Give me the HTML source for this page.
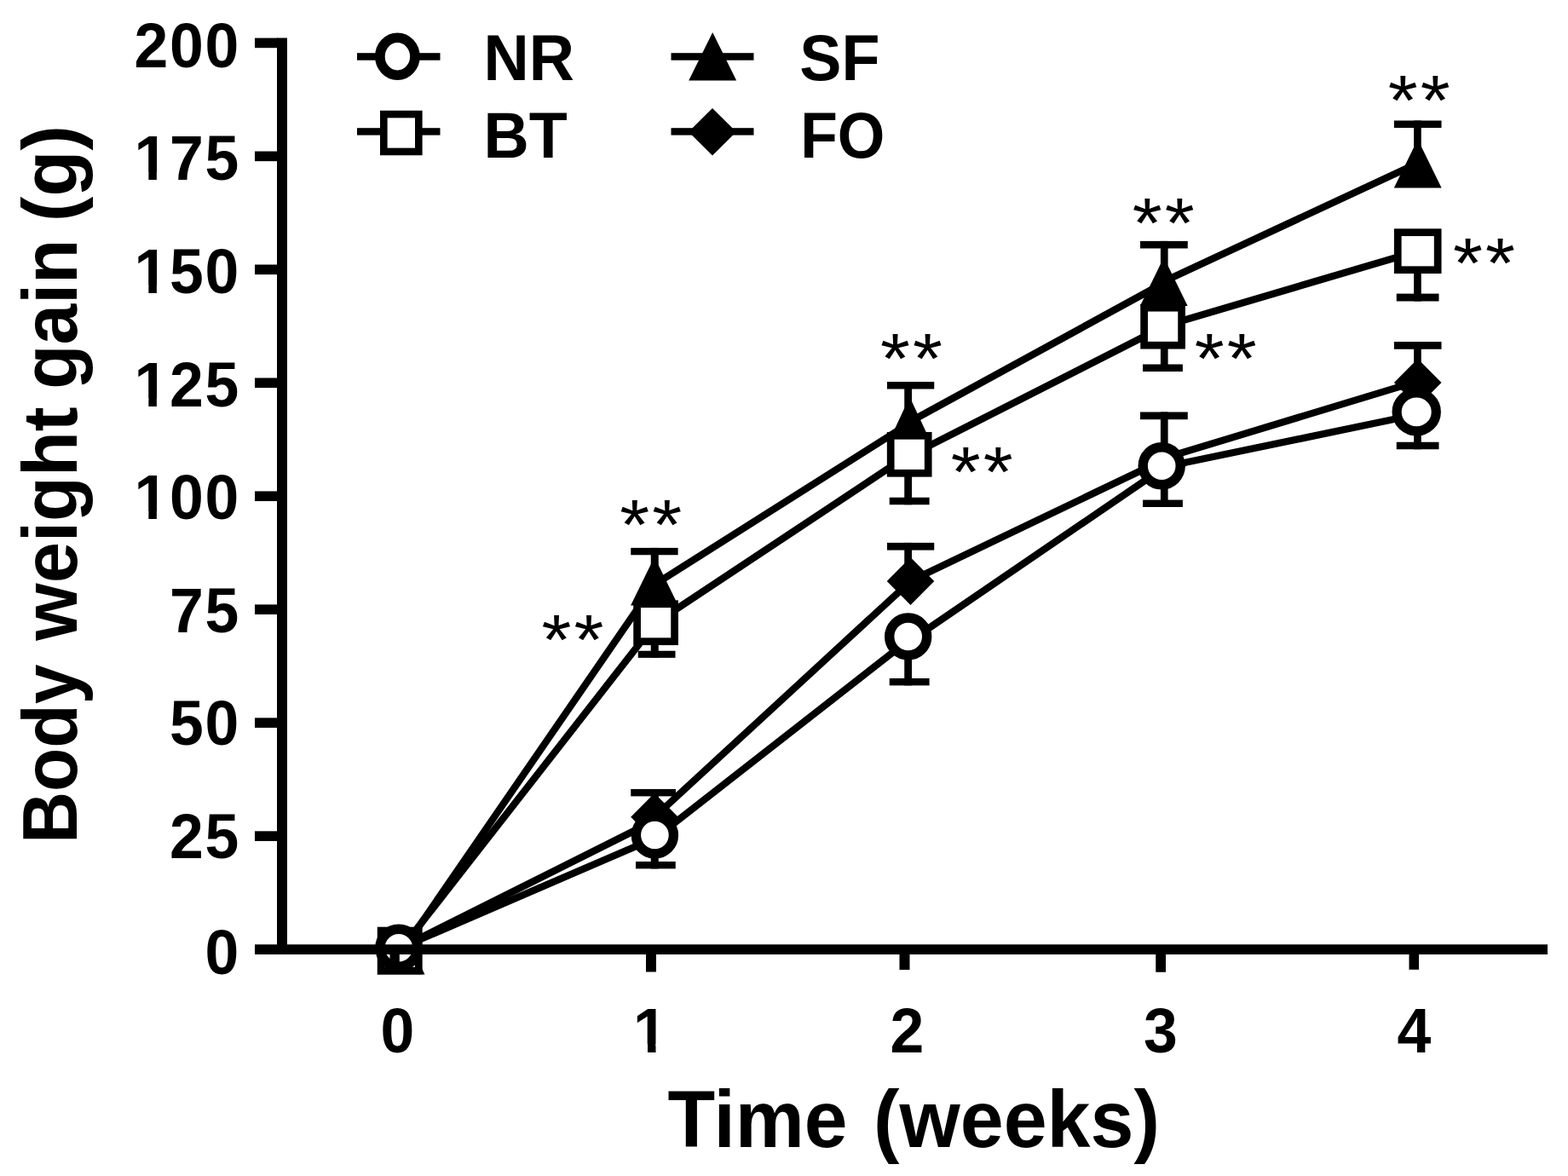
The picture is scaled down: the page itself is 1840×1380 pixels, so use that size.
<!DOCTYPE html>
<html lang="en">
<head>
<meta charset="utf-8">
<title>Body weight gain (g) vs Time (weeks)</title>
<style>
html,body{margin:0;padding:0;background:#fff;}
body{width:1840px;height:1380px;overflow:hidden;}
svg{display:block;}
.tick{font-family:"Liberation Sans",Arial,Helvetica,sans-serif;font-weight:bold;font-size:74.5px;fill:#000;}
.leg{font-family:"Liberation Sans",Arial,Helvetica,sans-serif;font-weight:bold;font-size:76px;fill:#000;}
.title{font-family:"Liberation Sans",Arial,Helvetica,sans-serif;font-weight:bold;fill:#000;}
.star{font-family:"Liberation Sans",Arial,Helvetica,sans-serif;font-weight:normal;font-size:83.1px;letter-spacing:2.9px;fill:#000;}
</style>
</head>
<body>
<svg width="1840" height="1380" viewBox="0 0 1840 1380" role="img" aria-label="Line chart of body weight gain (g) over time (weeks) for groups NR, BT, SF and FO">
<rect x="0" y="0" width="1840" height="1380" fill="#fff"/>
<g id="series-fo" fill="#000">
<path fill="none" stroke="#000" stroke-width="8.3" stroke-linecap="butt" d="M469.2 1112.7L768 963M768 958.75L1068.5 682M1068.5 681.7L1365.5 539.5M1365.5 537.8L1663.7 447.4"/>
<rect x="763.75" y="926" width="9" height="32.75"/>
<rect x="740.25" y="926" width="52.75" height="8.4"/>
<rect x="1061.25" y="636.9" width="8.75" height="45.1"/>
<rect x="1041" y="636.9" width="55.25" height="8.7"/>
<rect x="1361.9" y="483.5" width="8.7" height="61.5"/>
<rect x="1338" y="483.5" width="55.75" height="8.75"/>
<rect x="1659.1" y="401" width="8.65" height="48"/>
<rect x="1635.9" y="401" width="55.6" height="8.75"/>
<polygon points="469.2,1087 497,1115 469.2,1143 441.4,1115"/>
<polygon points="768,930.75 795.8,958.75 768,986.75 740.2,958.75"/>
<polygon points="1068.5,654 1096.3,682 1068.5,710 1040.7,682"/>
<polygon points="1365.5,517 1393.3,545 1365.5,573 1337.7,545"/>
<polygon points="1663.7,421 1691.5,449 1663.7,477 1635.9,449"/>
</g>
<g id="series-sf" fill="#000">
<path fill="none" stroke="#000" stroke-width="8.3" stroke-linecap="butt" d="M470.6 1117.7L768 685.6M768 686.1L1067.5 496.6M1067.5 495L1365.75 332M1365.75 330.2L1663.7 191.4"/>
<rect x="763.75" y="642.9" width="9" height="39.1"/>
<rect x="740.25" y="642.9" width="55.35" height="8.35"/>
<rect x="1061.25" y="448" width="8.75" height="46.25"/>
<rect x="1041" y="448" width="55.25" height="8.5"/>
<rect x="1361.9" y="282.9" width="8.7" height="47.6"/>
<rect x="1338" y="282.9" width="55.75" height="8.6"/>
<rect x="1659.1" y="141.5" width="8.65" height="50.5"/>
<rect x="1635.9" y="141.5" width="55.6" height="8.5"/>
<polygon points="470.6,1086.5 498.5,1143.5 442.7,1143.5"/>
<polygon points="768,653.5 795.9,710.5 740.1,710.5"/>
<polygon points="1067.5,465.75 1094.1,522.75 1040.9,522.75"/>
<polygon points="1365.75,302 1393.65,359 1337.85,359"/>
<polygon points="1663.7,163.5 1691.6,220.5 1635.8,220.5"/>
</g>
<g id="series-bt" fill="#000">
<path fill="none" stroke="#000" stroke-width="8.3" stroke-linecap="butt" d="M469.2 1115.6L769.6 730.75M769.6 730.75L1067.2 533.3M1067.2 534.9L1364.6 383.8M1364.6 383L1663.7 294.7"/>
<rect x="763.75" y="730.75" width="9" height="41.15"/>
<rect x="748.75" y="763.75" width="43.75" height="8.15"/>
<rect x="1061.25" y="533.3" width="8.75" height="58.95"/>
<rect x="1043.75" y="583.75" width="46.85" height="8.5"/>
<rect x="1361.9" y="383.2" width="8.7" height="52.8"/>
<rect x="1341" y="427.5" width="46.9" height="8.5"/>
<rect x="1659.1" y="294.7" width="8.65" height="58.8"/>
<rect x="1638.75" y="344.6" width="49.75" height="8.9"/>
<rect x="447.1" y="1092.07" width="44.2" height="47.05" fill="#fff" stroke="#000" stroke-width="8.7"/>
<rect x="747.6" y="708.75" width="44" height="44" fill="#fff" stroke="#000" stroke-width="8.7"/>
<rect x="1045.2" y="511.3" width="44" height="44" fill="#fff" stroke="#000" stroke-width="8.7"/>
<rect x="1342.6" y="361.2" width="44" height="44" fill="#fff" stroke="#000" stroke-width="8.7"/>
<rect x="1640.25" y="272.7" width="46.9" height="44" fill="#fff" stroke="#000" stroke-width="8.7"/>
</g>
<g id="series-nr" fill="#000">
<path fill="none" stroke="#000" stroke-width="8.3" stroke-linecap="butt" d="M467.9 1113.2L768.4 983.5M768.4 983.8L1065.7 751.5M1065.7 753.8L1363.2 550.5M1363.2 548.5L1662.2 486.5"/>
<rect x="763.75" y="980" width="9" height="39.4"/>
<rect x="746" y="1011" width="46.75" height="8.4"/>
<rect x="1061.25" y="747" width="8.75" height="57.4"/>
<rect x="1043.75" y="796" width="46.85" height="8.4"/>
<rect x="1361.9" y="546.8" width="8.7" height="48.2"/>
<rect x="1341" y="586.6" width="46.9" height="8.4"/>
<rect x="1659.1" y="483.4" width="8.65" height="43.85"/>
<rect x="1638.75" y="518.75" width="49.75" height="8.5"/>
<ellipse cx="467.9" cy="1112.3" rx="22" ry="22" fill="#fff" stroke="#000" stroke-width="11.4"/>
<ellipse cx="768.4" cy="980" rx="22" ry="22" fill="#fff" stroke="#000" stroke-width="11.4"/>
<ellipse cx="1065.7" cy="747" rx="22" ry="22" fill="#fff" stroke="#000" stroke-width="11.4"/>
<ellipse cx="1363.2" cy="546.8" rx="22" ry="22" fill="#fff" stroke="#000" stroke-width="11.4"/>
<ellipse cx="1662.2" cy="483.4" rx="23.1" ry="22.5" fill="#fff" stroke="#000" stroke-width="11.2"/>
</g>
<g id="axes" fill="#000">
<rect x="325" y="44.5" width="12" height="1075.5"/>
<rect x="299" y="1108.3" width="1517" height="11.7"/>
<rect x="299" y="44.6" width="27" height="11.6"/>
<rect x="299" y="177.56" width="27" height="11.6"/>
<rect x="299" y="310.52" width="27" height="11.6"/>
<rect x="299" y="443.49" width="27" height="11.6"/>
<rect x="299" y="576.45" width="27" height="11.6"/>
<rect x="299" y="709.41" width="27" height="11.6"/>
<rect x="299" y="842.37" width="27" height="11.6"/>
<rect x="299" y="975.34" width="27" height="11.6"/>
<rect x="457.5" y="1115" width="11.3" height="25.5"/>
<rect x="758" y="1115" width="12" height="25.5"/>
<rect x="1055.5" y="1115" width="12" height="23"/>
<rect x="1356.25" y="1115" width="11.75" height="25.75"/>
<rect x="1653.5" y="1115" width="11.5" height="22.8"/>
</g>
<g id="ylabels" class="tick" text-anchor="end" letter-spacing="1.77">
<text transform="translate(281.9 78.85) scale(0.96 1)">200</text>
<text transform="translate(281.9 211.45) scale(0.96 1)">175</text>
<text transform="translate(281.9 344.05) scale(0.96 1)">150</text>
<text transform="translate(281.9 476.65) scale(0.96 1)">125</text>
<text transform="translate(281.9 609.25) scale(0.96 1)">100</text>
<text transform="translate(281.9 741.85) scale(0.96 1)">75</text>
<text transform="translate(281.9 874.45) scale(0.96 1)">50</text>
<text transform="translate(281.9 1007.05) scale(0.96 1)">25</text>
<text transform="translate(281.9 1142.65) scale(0.96 1)">0</text>
</g>
<g id="xlabels" class="tick" text-anchor="middle">
<text transform="translate(466.3 1234.6) scale(0.96 1)">0</text>
<text transform="translate(763 1234.6) scale(0.96 1)">1</text>
<text transform="translate(1064.3 1234.6) scale(0.96 1)">2</text>
<text transform="translate(1361.9 1234.6) scale(0.96 1)">3</text>
<text transform="translate(1659.4 1234.6) scale(0.96 1)">4</text>
</g>
<g id="digit-trim" fill="#fff">
<rect x="160.33" y="202.14" width="14.02" height="10.31"/><rect x="183.86" y="202.14" width="13.66" height="10.31"/>
<rect x="160.33" y="334.74" width="14.02" height="10.31"/><rect x="183.86" y="334.74" width="13.66" height="10.31"/>
<rect x="160.33" y="467.34" width="14.02" height="10.31"/><rect x="183.86" y="467.34" width="13.66" height="10.31"/>
<rect x="160.33" y="599.94" width="14.02" height="10.31"/><rect x="183.86" y="599.94" width="13.66" height="10.31"/>
<rect x="745.97" y="1225.29" width="14.02" height="10.31"/><rect x="769.5" y="1225.29" width="13.66" height="10.31"/>
</g>
<text id="xtitle" class="title" font-size="94.5" y="1346"><tspan x="783.39" textLength="211.19" lengthAdjust="spacingAndGlyphs">Time</tspan> <tspan x="1025.02" textLength="335.92" lengthAdjust="spacingAndGlyphs">(weeks)</tspan></text>
<text id="ytitle" class="title" font-size="90.6" transform="translate(90 984.2) rotate(-90)" y="0"><tspan x="-5.46" textLength="210.08" lengthAdjust="spacingAndGlyphs">Body</tspan> <tspan x="232.5" textLength="274.4" lengthAdjust="spacingAndGlyphs">weight</tspan> <tspan x="527.47" textLength="176.13" lengthAdjust="spacingAndGlyphs">gain</tspan> <tspan x="723.97" textLength="113.13" lengthAdjust="spacingAndGlyphs">(g)</tspan></text>
<g id="legend" fill="#000">
<rect x="419" y="62.2" width="97.5" height="8.5"/>
<ellipse cx="466.4" cy="66.25" rx="20.5" ry="22" fill="#fff" stroke="#000" stroke-width="11.6"/>
<text class="leg" transform="translate(567.5 94) scale(0.97 1)">NR</text>
<rect x="419" y="150.2" width="97.5" height="8.4"/>
<rect x="450.3" y="134.05" width="41" height="43.9" fill="#fff" stroke="#000" stroke-width="8.6"/>
<text class="leg" transform="translate(567.5 185.3) scale(0.97 1)">BT</text>
<rect x="787.5" y="62.2" width="97" height="8.5"/>
<polygon points="836.2,38 864.2,94.5 808.2,94.5"/>
<text class="leg" transform="translate(938.3 94) scale(0.97 1)">SF</text>
<rect x="787.5" y="150.2" width="97" height="8.4"/>
<polygon points="836,127 864,154.8 836,182.6 808,154.8"/>
<text class="leg" transform="translate(939.2 185.3) scale(0.94 1)">FO</text>
</g>
<g id="stars" class="star">
<text transform="translate(727.15 645.24) scale(1.08 1)">**</text>
<text transform="translate(635.55 780.24) scale(1.08 1)">**</text>
<text transform="translate(1033.05 450.34) scale(1.08 1)">**</text>
<text transform="translate(1115.65 583.34) scale(1.08 1)">**</text>
<text transform="translate(1328.65 291.34) scale(1.08 1)">**</text>
<text transform="translate(1401.65 450.34) scale(1.08 1)">**</text>
<text transform="translate(1628.65 147.09) scale(1.08 1)">**</text>
<text transform="translate(1704.9 338.34) scale(1.08 1)">**</text>
</g>
</svg>
</body>
</html>
